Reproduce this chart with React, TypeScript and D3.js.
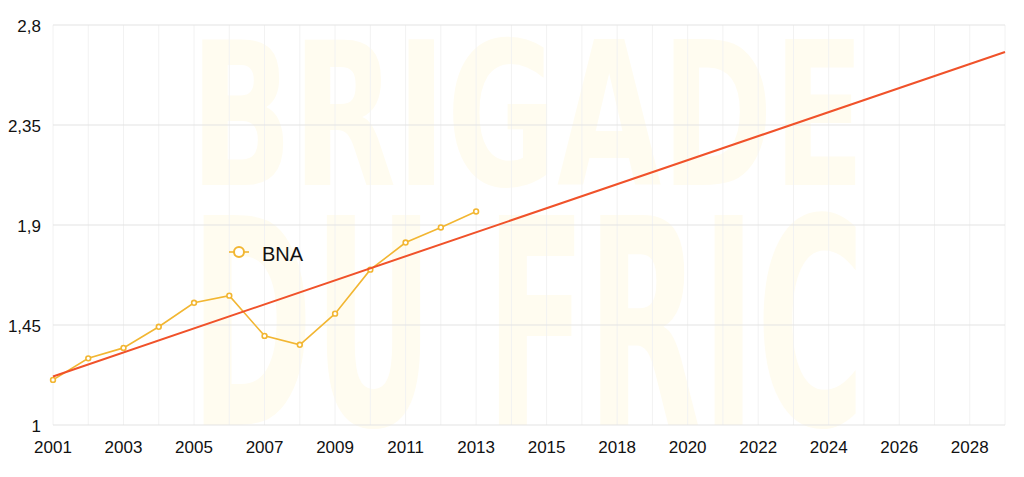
import React from "react";
import * as d3 from "d3";

const categories = [
  "2001","2002","2003","2004","2005","2006","2007","2008","2009","2010",
  "2011","2012","2013","2014","2015","2016","2018","2019","2020","2021",
  "2022","2023","2024","2025","2026","2027","2028","2029",
];
const bnaValues = [1.203, 1.3, 1.347, 1.442, 1.55, 1.582, 1.401, 1.361, 1.501, 1.699, 1.821, 1.889, 1.961];
const yTicks = [1, 1.45, 1.9, 2.35, 2.8];
const seriesName = "BNA";

const W = 1024, H = 477;
const left = 53, right = 1005, top = 25, bottom = 425;
const FONT = "'Liberation Sans', Arial, Helvetica, sans-serif";

export default function App() {
  const x = d3.scalePoint<number>().domain(d3.range(categories.length)).range([left, right]);
  const y = d3.scaleLinear().domain([1, 2.8]).range([bottom, top]);

  // least squares trend line of the series, extended over all categories
  const n = bnaValues.length;
  const mx = d3.mean(d3.range(n))!;
  const my = d3.mean(bnaValues)!;
  let sxy = 0, sxx = 0;
  bnaValues.forEach((v, i) => { sxy += (i - mx) * (v - my); sxx += (i - mx) * (i - mx); });
  const slope = sxy / sxx;
  const icpt = my - slope * mx;
  const lastIdx = categories.length - 1;
  const trend = [0, lastIdx].map((i) => [i, icpt + slope * i] as [number, number]);

  const line = d3.line<number>().x((_, i) => x(i)!).y((v) => y(v));
  const tLine = d3.line<[number, number]>().x((d) => x(d[0])!).y((d) => y(d[1]));
  const fmt = (v: number) => String(v).replace(".", ",");

  const yellow = "#f2b632";
  const red = "#f0522a";

  return (
    <svg width={W} height={H} style={{ position: "absolute", left: 0, top: 0, background: "#fff" }} fontFamily={FONT}>
      {/* watermark */}
      <g fill="#fffcf0" fontWeight="bold" fontFamily="'Liberation Sans Narrow', 'DejaVu Sans Condensed', sans-serif">
        <text x={190} y={185} fontSize={200} textLength={675} lengthAdjust="spacingAndGlyphs">BRIGADE</text>
        <text x={190} y={425} fontSize={288} textLength={675} lengthAdjust="spacingAndGlyphs">DU FRIC</text>
      </g>
      {/* vertical grid */}
      {categories.map((_, i) => (
        <line key={"v" + i} x1={x(i)} x2={x(i)} y1={top} y2={bottom} stroke="#f2f2f2" strokeWidth={1} />
      ))}
      {/* horizontal grid */}
      {yTicks.map((t) => (
        <line key={"h" + t} x1={left} x2={right} y1={y(t)} y2={y(t)} stroke="#e3e3e3" strokeWidth={1} />
      ))}
      {/* y labels */}
      {yTicks.map((t) => (
        <text key={"yl" + t} x={41} y={y(t) + 7} textAnchor="end" fontSize={17} fill="#111">{fmt(t)}</text>
      ))}
      {/* x labels */}
      {categories.map((c, i) =>
        i % 2 === 0 ? (
          <text key={"xl" + i} x={x(i)} y={453} textAnchor="middle" fontSize={17} fill="#111">{c}</text>
        ) : null
      )}
      {/* series */}
      <path d={line(bnaValues)!} fill="none" stroke={yellow} strokeWidth={1.6} />
      {bnaValues.map((v, i) => (
        <circle key={"p" + i} cx={x(i)} cy={y(v)} r={2.4} fill="#fff" stroke={yellow} strokeWidth={1.6} />
      ))}
      {/* trend */}
      <path d={tLine(trend)!} fill="none" stroke={red} strokeWidth={2} />
      {/* legend */}
      <line x1={229} x2={249} y1={252} y2={252} stroke={yellow} strokeWidth={1.6} />
      <circle cx={239} cy={252} r={5} fill="#fff" stroke={yellow} strokeWidth={2} />
      <text x={262} y={261} fontSize={20} fill="#111">{seriesName}</text>
    </svg>
  );
}
